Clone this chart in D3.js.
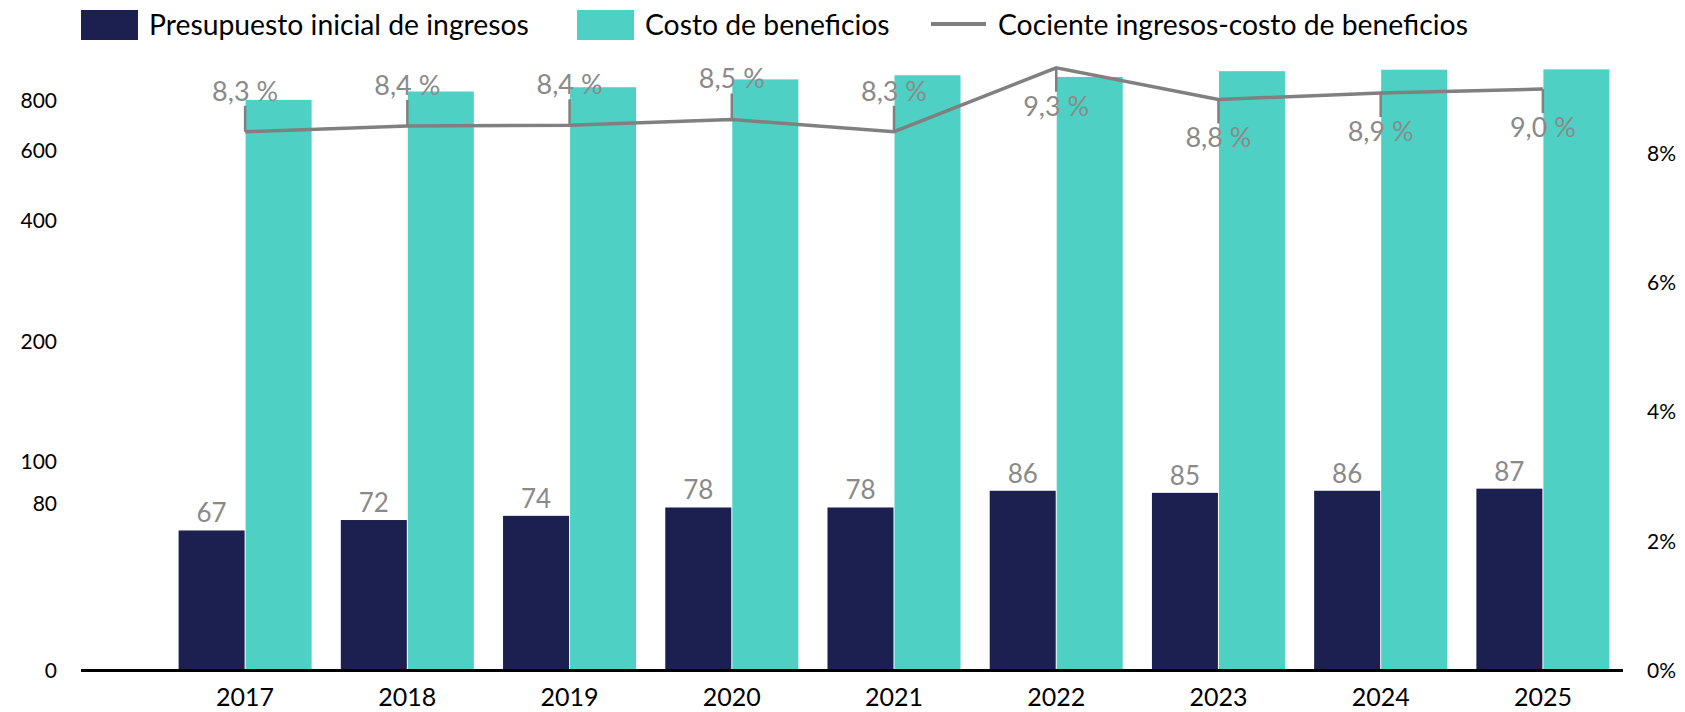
<!DOCTYPE html>
<html>
<head>
<meta charset="utf-8">
<script src="https://cdn.jsdelivr.net/npm/d3@7"></script>
<style>
  body { margin: 0; background: #fff; }
  text { font-family: Lato, sans-serif; }
</style>
</head>
<body>
<script>

window.onload = function(){

    const years = ['2017','2018','2019','2020','2021','2022','2023','2024','2025'];
    const ingresos = [67, 72, 74, 78, 78, 86, 85, 86, 87];
    const costo = [805, 845, 866, 906, 928, 919, 950, 958, 960];
    const cociente = [8.34, 8.43, 8.44, 8.53, 8.34, 9.33, 8.84, 8.94, 9.00];
    const leftTicks = [0, 80, 100, 200, 400, 600, 800];
    const rightTicks = [0, 2, 4, 6, 8];
    const legendLabels = ['Presupuesto inicial de ingresos', 'Costo de beneficios', 'Cociente ingresos-costo de beneficios'];

    const width = 1685;
    const height = 712;
    const baseY = 670.5;

    const navy = '#1b2050';
    const teal = '#4ed1c4';
    const grey = '#808080';
    const labelGrey = '#8a8a8a';

    // left axis is linear up to 100 and log2 above it
    const k = 57.5;
    const f = v => v <= 100 ? v : 100 + k * Math.log2(v / 100);

    const yScale = d3.scaleLinear()
        .domain([0, 100])
        .range([baseY, baseY - 209]);

    const yRight = d3.scaleLinear() // percent
        .domain([0, 10])
        .range([baseY, baseY - 646]);

    const xScale = d3.scaleBand()
        .domain(years)
        .range([164, 1624])
        .paddingInner(0.18)
        .paddingOuter(0.09);

    const xSub = d3.scaleBand()
        .domain(['ingresos', 'costo'])
        .range([0, xScale.bandwidth()])
        .paddingInner(0.015);

    const center = d => xScale(d) + xScale.bandwidth() / 2;

    let svg = d3.select('body')
                .append('svg')
                    .attr('width', width)
                    .attr('height', height);

    // bars
    svg.append('g').selectAll('rect')
        .data(years)
        .enter()
            .append('rect')
                .attr('x', d => xScale(d) + xSub('ingresos'))
                .attr('y', (d, i) => yScale(f(ingresos[i])))
                .attr('width', xSub.bandwidth())
                .attr('height', (d, i) => baseY - yScale(f(ingresos[i])))
                .attr('fill', navy);

    svg.append('g').selectAll('rect')
        .data(years)
        .enter()
            .append('rect')
                .attr('x', d => xScale(d) + xSub('costo'))
                .attr('y', (d, i) => yScale(f(costo[i])))
                .attr('width', xSub.bandwidth())
                .attr('height', (d, i) => baseY - yScale(f(costo[i])))
                .attr('fill', teal);

    // value labels on navy bars
    svg.append('g').selectAll('text')
        .data(years)
        .enter()
            .append('text')
                .attr('x', d => xScale(d) + xSub('ingresos') + xSub.bandwidth() / 2)
                .attr('y', (d, i) => yScale(f(ingresos[i])) - 8)
                .attr('text-anchor', 'middle')
                .attr('font-size', 26)
                .attr('fill', labelGrey)
                .text((d, i) => ingresos[i]);

    // axis line
    svg.append('line')
        .attr('x1', 81).attr('x2', 1623)
        .attr('y1', baseY).attr('y2', baseY)
        .attr('stroke', '#000')
        .attr('stroke-width', 3);

    // x axis
    let xAxis = svg.append('g')
        .attr('transform', `translate(0,${baseY})`)
        .call(d3.axisBottom(xScale).tickSize(0).tickPadding(18));
    xAxis.select('.domain').remove();
    xAxis.selectAll('text')
        .attr('font-family', 'Lato, sans-serif')
        .attr('font-size', 25)
        .attr('fill', '#000');

    // left axis
    let yAxis = svg.append('g')
        .attr('transform', 'translate(60,0)')
        .call(d3.axisLeft(yScale)
            .tickValues(leftTicks.map(f))
            .tickFormat((d, i) => leftTicks[i])
            .tickSize(0)
            .tickPadding(3));
    yAxis.select('.domain').remove();
    yAxis.selectAll('text')
        .attr('font-family', 'DejaVu Sans, sans-serif')
        .attr('font-size', 21)
        .attr('fill', '#000');

    // right axis
    let rAxis = svg.append('g')
        .attr('transform', 'translate(1647,0)')
        .call(d3.axisRight(yRight)
            .tickValues(rightTicks)
            .tickFormat(d => d + '%')
            .tickSize(0)
            .tickPadding(0));
    rAxis.select('.domain').remove();
    rAxis.selectAll('text')
        .attr('font-family', 'DejaVu Sans, sans-serif')
        .attr('font-size', 21)
        .attr('fill', '#000');

    // ratio line
    const line = d3.line()
        .x((d, i) => center(years[i]))
        .y(d => yRight(d));

    svg.append('path')
        .datum(cociente)
        .attr('d', line)
        .attr('fill', 'none')
        .attr('stroke', grey)
        .attr('stroke-width', 3.5)
        .attr('stroke-linejoin', 'miter');

    // leader lines and labels, above until 2021, below after
    const below = i => i >= 5;
    const fmt = v => d3.format('.1f')(v).replace('.', ',') + ' %';

    svg.append('g').selectAll('line')
        .data(cociente)
        .enter()
            .append('line')
                .attr('x1', (d, i) => center(years[i]))
                .attr('x2', (d, i) => center(years[i]))
                .attr('y1', d => yRight(d))
                .attr('y2', (d, i) => yRight(d) + (below(i) ? 24 : -26))
                .attr('stroke', grey)
                .attr('stroke-width', 2.5);

    svg.append('g').selectAll('text')
        .data(cociente)
        .enter()
            .append('text')
                .attr('x', (d, i) => center(years[i]))
                .attr('y', (d, i) => yRight(d) + (below(i) ? 48 : -31))
                .attr('text-anchor', 'middle')
                .attr('font-size', 27)
                .attr('fill', labelGrey)
                .text(d => fmt(d));

    // legend
    let legend = svg.append('g');
    legend.append('rect')
        .attr('x', 81).attr('y', 10).attr('width', 57).attr('height', 30)
        .attr('fill', navy);
    legend.append('text')
        .attr('x', 149).attr('y', 35)
        .attr('font-size', 28.3)
        .text(legendLabels[0]);
    legend.append('rect')
        .attr('x', 577).attr('y', 10).attr('width', 57).attr('height', 30)
        .attr('fill', teal);
    legend.append('text')
        .attr('x', 645).attr('y', 35)
        .attr('font-size', 28.3)
        .text(legendLabels[1]);
    legend.append('line')
        .attr('x1', 931).attr('x2', 986)
        .attr('y1', 24).attr('y2', 24)
        .attr('stroke', grey)
        .attr('stroke-width', 4);
    legend.append('text')
        .attr('x', 998).attr('y', 35)
        .attr('font-size', 28.3)
        .text(legendLabels[2]);

};
</script>
</body>
</html>
